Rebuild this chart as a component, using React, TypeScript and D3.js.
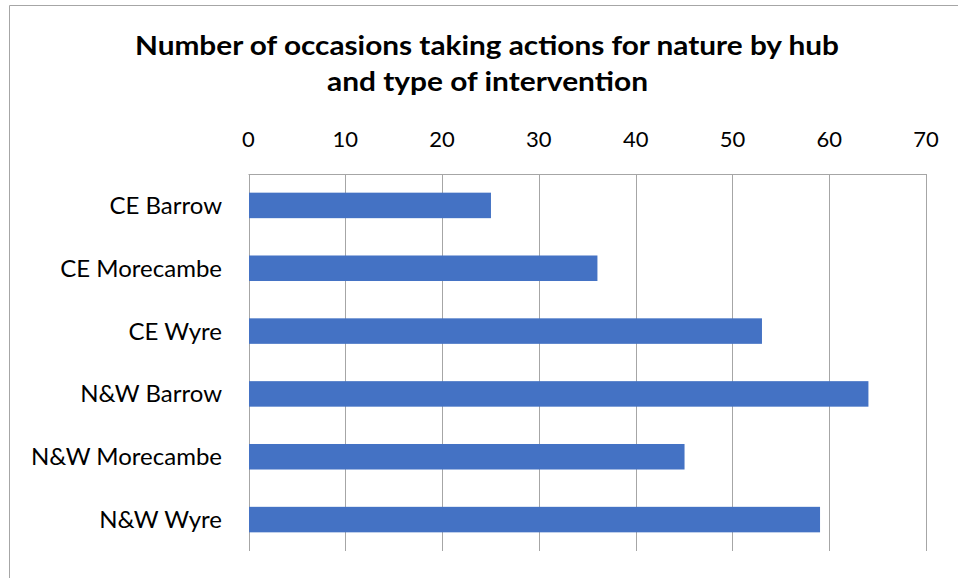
import React from "react";
import * as d3 from "d3";

const categories = ["CE Barrow", "CE Morecambe", "CE Wyre", "N&W Barrow", "N&W Morecambe", "N&W Wyre"];
const values = [25, 36, 53, 64, 45, 59];
const ticks = [0, 10, 20, 30, 40, 50, 60, 70];
const titleLines = ["Number of occasions taking actions for nature by hub", "and type of intervention"];

const W = 958;
const H = 578;
const plot = { left: 248.5, right: 926, top: 174, bottom: 551 };
const FONT = "Lato, 'Open Sans', sans-serif";

export default function App() {
  const x = d3.scaleLinear().domain([0, 70]).range([plot.left, plot.right]);
  const y = d3
    .scaleBand<string>()
    .domain(categories)
    .range([plot.top, plot.bottom])
    .paddingInner(0.594)
    .paddingOuter(0.297);

  return (
    <svg
      width={W}
      height={H}
      style={{ position: "absolute", left: 0, top: 0, background: "#fff" }}
    >
      <rect x={0} y={0} width={W} height={H} fill="#fff" />
      {/* chart border */}
      <path d={`M9.5,${H} L9.5,5.5 L${W},5.5`} fill="none" stroke="#a6a6a6" strokeWidth={1} />

      {/* title */}
      <text x={487} y={54.5} textAnchor="middle" fontFamily={FONT} fontWeight="bold" fontSize={27} fill="#000"
        textLength={704} lengthAdjust="spacingAndGlyphs">
        {titleLines[0]}
      </text>
      <text x={487.5} y={91} textAnchor="middle" fontFamily={FONT} fontWeight="bold" fontSize={27} fill="#000"
        textLength={321} lengthAdjust="spacingAndGlyphs">
        {titleLines[1]}
      </text>

      {/* gridlines */}
      {ticks.map((t) => (
        <line key={`g${t}`} x1={Math.round(x(t)) + 0.5} x2={Math.round(x(t)) + 0.5} y1={plot.top} y2={plot.bottom}
          stroke="#a6a6a6" strokeWidth={1} />
      ))}
      {/* top axis line */}
      <line x1={plot.left} x2={plot.right + 0.5} y1={plot.top + 0.5} y2={plot.top + 0.5} stroke="#a6a6a6" strokeWidth={1} />

      {/* tick labels */}
      {ticks.map((t) => (
        <text key={`t${t}`} x={x(t)} y={146.7} textAnchor="middle" fontFamily={FONT} fontSize={22} fill="#000">
          {t}
        </text>
      ))}

      {/* bars */}
      {categories.map((c, i) => (
        <rect key={c} x={x(0) + 0.5} y={y(c)!} width={x(values[i]) - x(0)} height={y.bandwidth()} fill="#4472c4" />
      ))}

      {/* category labels */}
      {categories.map((c) => (
        <text key={`l${c}`} x={222} y={y(c)! + y.bandwidth() / 2 + 8.5} textAnchor="end" fontFamily={FONT} fontSize={24} fill="#000">
          {c}
        </text>
      ))}
    </svg>
  );
}
